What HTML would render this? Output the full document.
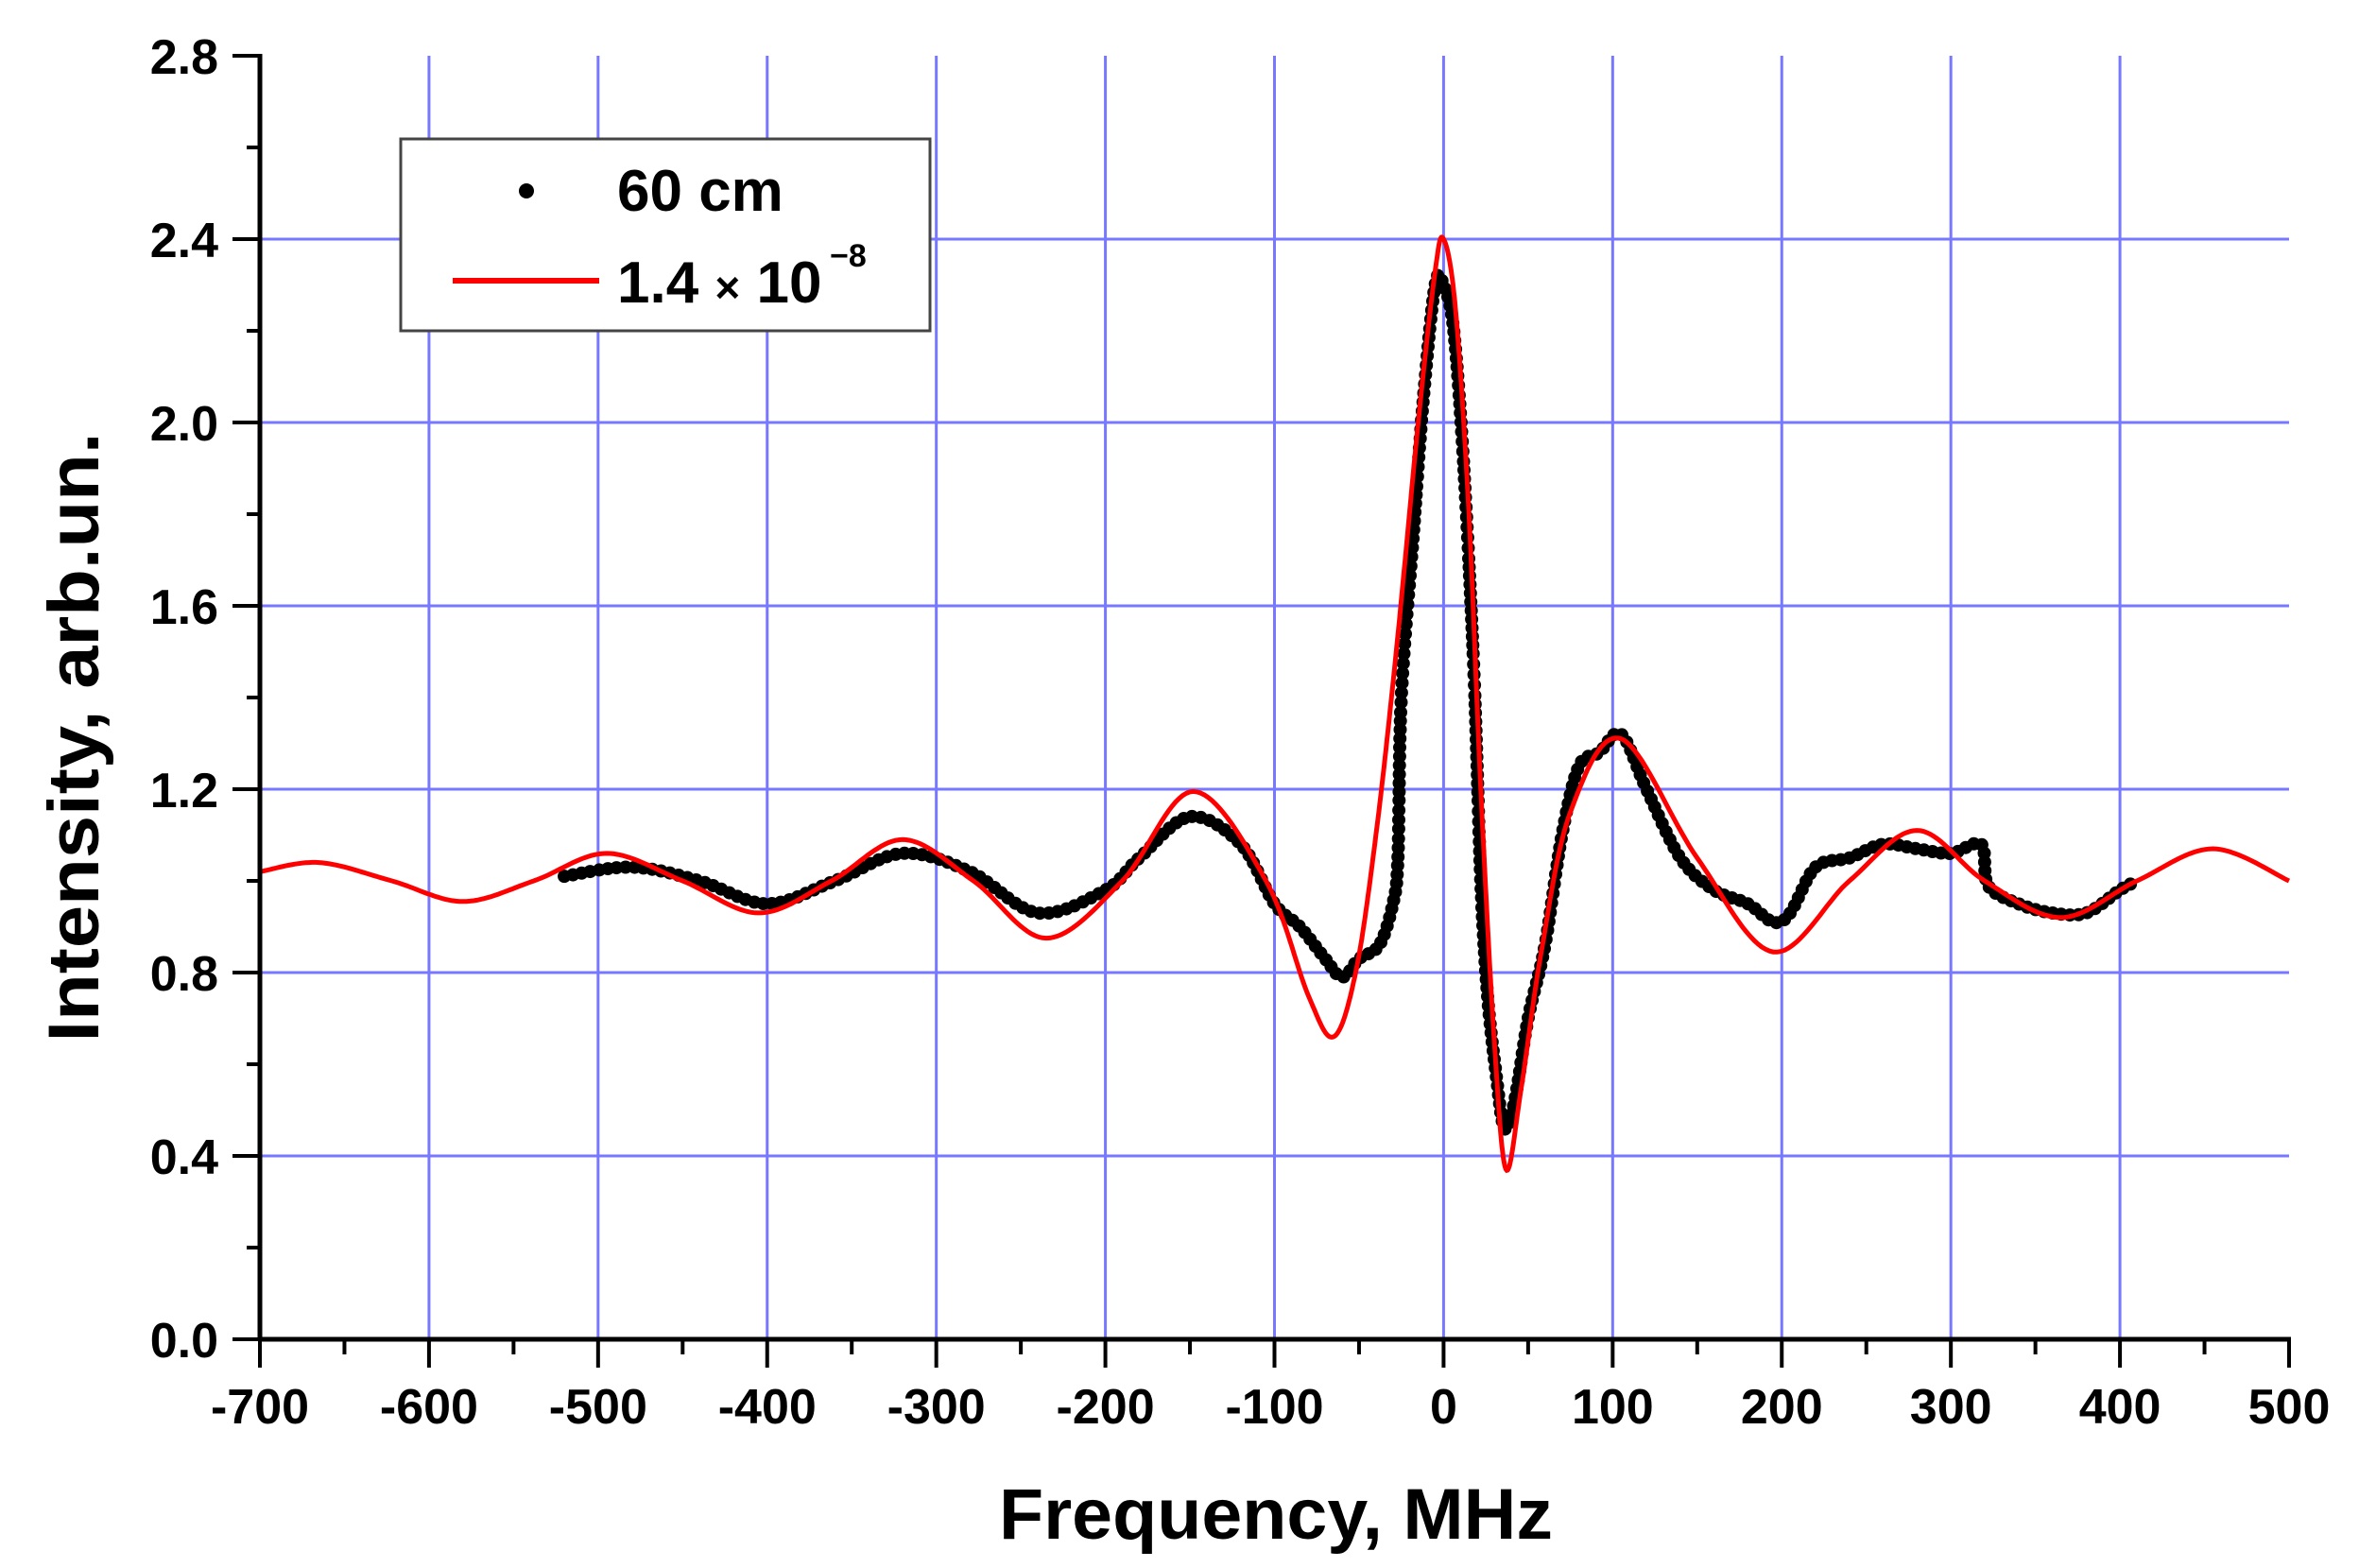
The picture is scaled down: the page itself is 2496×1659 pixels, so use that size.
<!DOCTYPE html>
<html><head><meta charset="utf-8"><style>
html,body{margin:0;padding:0;background:#fff;}
svg{display:block;font-family:"Liberation Sans",Arial,sans-serif;font-weight:bold;}
</style></head><body>
<svg id="s" width="2496" height="1659" viewBox="0 0 2496 1659" xmlns="http://www.w3.org/2000/svg">
<g id="grid"></g>
<g id="dots"></g>
<path id="red" fill="none" stroke="#ff0000" stroke-width="5"/>
<g id="axes"></g>
<rect x="424" y="147" width="560" height="203" fill="#fff" stroke="#444" stroke-width="3"/>
<circle cx="557" cy="202" r="8" fill="#000"/>
<text x="653" y="223" font-size="62">60 cm</text>
<line x1="479" y1="297" x2="634" y2="297" stroke="#ff0000" stroke-width="6"/>
<text x="653" y="320" font-size="62">1.4 <tspan font-size="46">×</tspan> 10</text>
<text x="878" y="282" font-size="34">−8</text>
<text x="1350" y="1628" font-size="76" text-anchor="middle" textLength="586" lengthAdjust="spacingAndGlyphs">Frequency, MHz</text>
<text transform="translate(104,780) rotate(-90)" font-size="76" text-anchor="middle" textLength="645" lengthAdjust="spacingAndGlyphs">Intensity, arb.un.</text>
</svg>
<script>
var NS="http://www.w3.org/2000/svg";
function X(f){return 275+(f+700)*(2147/1200);}
function Y(v){return 1417-v*(1358/2.8);}
function el(p,t,a){var e=document.createElementNS(NS,t);for(var k in a)e.setAttribute(k,a[k]);p.appendChild(e);return e;}
var g=document.getElementById('grid'),ax=document.getElementById('axes');
for(var f=-600;f<=400;f+=100)el(g,'line',{x1:X(f),x2:X(f),y1:59,y2:1417,stroke:'#7777ff','stroke-width':3});
for(var v=0.4;v<2.5;v+=0.4)el(g,'line',{x1:275,x2:2422,y1:Y(v),y2:Y(v),stroke:'#7777ff','stroke-width':3});
el(ax,'line',{x1:275,x2:275,y1:57,y2:1419,stroke:'#000','stroke-width':5});
el(ax,'line',{x1:273,x2:2424,y1:1417,y2:1417,stroke:'#000','stroke-width':5});
for(var i=0;i<=24;i++){var f=-700+i*50,x=X(f),maj=i%2==0;
 el(ax,'line',{x1:x,x2:x,y1:1417,y2:maj?1447:1433,stroke:'#000','stroke-width':4});
 if(maj){var t=el(ax,'text',{x:x,y:1506,'font-size':52,'text-anchor':'middle'});t.textContent=f;}}
for(var i=0;i<=14;i++){var v=i*0.2,y=Y(v),maj=i%2==0;
 el(ax,'line',{x1:maj?246:261,x2:275,y1:y,y2:y,stroke:'#000','stroke-width':4});
 if(maj){var t=el(ax,'text',{x:231,y:y+19,'font-size':52,'text-anchor':'end'});t.textContent=v.toFixed(1);}}
function cr(pts,step){var out=[];for(var i=0;i<pts.length-1;i++){var p0=pts[Math.max(0,i-1)],p1=pts[i],p2=pts[i+1],p3=pts[Math.min(pts.length-1,i+2)];
 for(var t=0;t<1;t+=step){var t2=t*t,t3=t2*t;
 function c(a,b,cc,d){return 0.5*((2*b)+(-a+cc)*t+(2*a-5*b+4*cc-d)*t2+(-a+3*b-3*cc+d)*t3);}
 out.push([c(p0[0],p1[0],p2[0],p3[0]),c(p0[1],p1[1],p2[1],p3[1])]);}}
 out.push(pts[pts.length-1]);return out;}
var R=[[-700,1.02],[-665,1.04],[-622,1.0],[-580,0.955],[-538,1.0],[-495,1.06],[-450,1.0],[-405,0.93],[-362,1.0],[-320,1.09],[-278,1.0],[-235,0.875],[-190,1.0],[-148,1.195],[-105,1.0],[-80,0.75],[-65,0.66],[-52,0.8],[-40,1.1],[-28,1.5],[-15,2.0],[-5,2.33],[0,2.4],[7,2.25],[15,1.8],[22,1.2],[30,0.65],[37,0.37],[46,0.55],[58,0.85],[75,1.15],[105,1.31],[150,1.05],[195,0.845],[240,1.0],[280,1.11],[320,1.0],[365,0.92],[410,1.0],[455,1.07],[500,1.0]];
var rp=cr(R.map(function(p){return [X(p[0]),Y(p[1])];}),0.05);
document.getElementById('red').setAttribute('d','M'+rp.map(function(p){return p[0].toFixed(1)+','+p[1].toFixed(1);}).join(' L'));
var B=[[-520,1.01],[-480,1.03],[-440,1.0],[-400,0.95],[-360,1.0],[-320,1.06],[-280,1.02],[-240,0.93],[-200,0.98],[-180,1.05],[-150,1.14],[-120,1.08],[-100,0.95],[-85,0.9],[-70,0.83],[-60,0.79],[-50,0.83],[-38,0.86],[-30,0.95],[-27,1.05],[-25,1.4],[-18,1.75],[-12,2.05],[-5,2.3],[0,2.3],[6,2.2],[12,1.9],[18,1.45],[22,1.0],[26,0.75],[31,0.58],[36,0.46],[42,0.52],[50,0.7],[60,0.86],[70,1.1],[80,1.25],[92,1.28],[105,1.32],[120,1.2],[140,1.05],[160,0.98],[180,0.95],[195,0.91],[205,0.93],[220,1.03],[240,1.05],[260,1.08],[280,1.07],[300,1.06],[318,1.08],[322,0.99],[340,0.95],[360,0.93],[380,0.93],[400,0.98],[410,1.0]];
var bp=cr(B.map(function(p){return [X(p[0]),Y(p[1])];}),0.01);
var d=document.getElementById('dots'),acc=0,last=bp[0];el(d,'circle',{cx:last[0],cy:last[1],r:7});
for(var i=1;i<bp.length;i++){var p=bp[i];acc+=Math.hypot(p[0]-last[0],p[1]-last[1]);last=p;
 if(acc>=9){acc=0;el(d,'circle',{cx:p[0].toFixed(1),cy:p[1].toFixed(1),r:7});}}
</script>
</body></html>
